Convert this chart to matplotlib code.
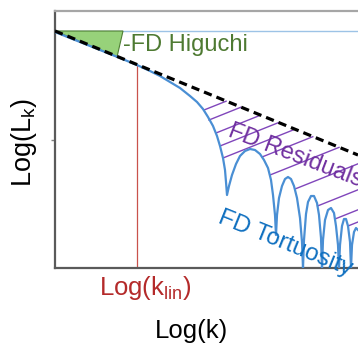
import matplotlib
matplotlib.use("Agg")
import matplotlib.pyplot as plt
from matplotlib.patches import Polygon

plt.rcParams['font.family'] = ['Liberation Sans', 'DejaVu Sans']
plt.rcParams['mathtext.fontset'] = 'custom'
plt.rcParams['mathtext.rm'] = 'Liberation Sans'
plt.rcParams['mathtext.it'] = 'Liberation Sans:italic'

# ---- data (Log(k) on x, Log(L_k) on y, arbitrary units) ----
higuchi_x = [0.0, 3.03]
higuchi_y = [2.37, 1.13]

tri_x = [0.0, 0.68, 0.62]
tri_y = [2.37, 2.37, 2.11]

k_lin = 0.82
k_lin_top = 2.03

curve_x = [0.00, 0.25, 0.45, 0.65, 0.82, 0.95, 1.05, 1.15, 1.25, 1.35, 1.42, 1.48,
           1.53, 1.58, 1.62, 1.65, 1.68, 1.70, 1.71, 1.72, 1.74, 1.77, 1.81, 1.85,
           1.90, 1.95, 2.00, 2.05, 2.09, 2.13, 2.16, 2.18, 2.20, 2.21, 2.22, 2.24,
           2.27, 2.30, 2.33, 2.36, 2.39, 2.42, 2.45, 2.47, 2.48, 2.49, 2.51, 2.53,
           2.56, 2.59, 2.62, 2.64, 2.66, 2.67, 2.68, 2.70, 2.73, 2.76, 2.79, 2.81,
           2.83, 2.84, 2.85, 2.87, 2.89, 2.91, 2.93, 2.95, 2.96, 2.97, 2.99, 3.01, 3.03]
curve_y = [2.36, 2.26, 2.18, 2.10, 2.03, 1.97, 1.92, 1.86, 1.80, 1.72, 1.66, 1.59,
           1.51, 1.42, 1.32, 1.22, 1.10, 0.98, 0.86, 0.73, 0.82, 0.93, 1.04, 1.12,
           1.17, 1.19, 1.18, 1.14, 1.08, 1.00, 0.88, 0.73, 0.53, 0.33, 0.53, 0.70,
           0.82, 0.89, 0.91, 0.89, 0.82, 0.70, 0.50, 0.26, 0.00, 0.28, 0.54, 0.66,
           0.72, 0.72, 0.65, 0.53, 0.30, 0.00, 0.28, 0.48, 0.58, 0.60, 0.55, 0.42,
           0.23, 0.00, 0.23, 0.42, 0.49, 0.49, 0.42, 0.26, 0.00, 0.23, 0.36, 0.40, 0.38]

hatch_x0 = [1.49, 1.54, 1.61, 1.65, 1.68, 2.07, 2.15, 2.40, 2.625, 2.80, 2.93]
hatch_y0 = [1.58, 1.48, 1.35, 1.22, 1.10, 1.11, 0.93, 0.79, 0.62, 0.49, 0.42]
hatch_x1 = [1.711, 1.859, 2.054, 2.235, 2.398, 2.578, 2.84, 3.03, 3.03, 3.03, 3.03]
hatch_y1 = [1.668, 1.608, 1.528, 1.454, 1.387, 1.313, 1.206, 1.042, 0.782, 0.582, 0.46]

W, H = 358, 349
fig = plt.figure(figsize=(W / 100, H / 100), dpi=100)
ax = fig.add_axes([55 / W, 81 / H, 303 / W, 257 / H])
ax.set_xlim(0, 3.03)
ax.set_ylim(0, 2.57)

for s in ['left', 'bottom']:
    ax.spines[s].set_color('#5a5a5a')
    ax.spines[s].set_linewidth(1.6)
ax.spines['top'].set_color('#a6a6a6')
ax.spines['top'].set_linewidth(1.6)
ax.spines['right'].set_visible(False)
ax.set_xticks([])
ax.set_yticks([1.28])
ax.set_yticklabels([''])
ax.tick_params(axis='y', direction='out', length=3, width=1, color='#808080')

# light blue reference line at top of triangle
ax.axhline(tri_y[0], color='#9dc3e6', lw=1.0, zorder=1)

# green triangle
ax.add_patch(Polygon(list(zip(tri_x, tri_y)), closed=True, facecolor='#97d27a',
                     edgecolor='#4f7f34', lw=0.8, zorder=2))

# red k_lin line
ax.plot([k_lin, k_lin], [0, k_lin_top], color='#c9524c', lw=0.9, zorder=2)

# hatch lines
for x0, y0, x1, y1 in zip(hatch_x0, hatch_y0, hatch_x1, hatch_y1):
    ax.plot([x0, x1], [y0, y1], color='#8046bb', lw=1.0, zorder=2)

# blue curve
ax.plot(curve_x, curve_y, color='#4a8fd4', lw=1.6, zorder=3)

# dashed Higuchi fit
ax.plot(higuchi_x, higuchi_y, color='black', lw=2.3, dashes=(2.6, 1.6), zorder=4)


def px(x, y):
    return x / W, 1 - y / H


fig.text(*px(123, 51), '-FD Higuchi', color='#4e7a32', fontsize=17,
         ha='left', va='baseline')
fig.text(*px(227, 136), 'FD Residuals', color='#7030a0', fontsize=17,
         rotation=-21, rotation_mode='anchor', ha='left', va='baseline')
fig.text(*px(217, 222), 'FD Tortuosity', color='#1070c0', fontsize=17.5,
         rotation=-22, rotation_mode='anchor', ha='left', va='baseline')

fig.text(*px(191.5, 338), 'Log(k)', color='black', fontsize=18.5,
         ha='center', va='baseline')
fig.text(*px(145.5, 295), r'Log(k$_{\mathrm{lin}}$)', color='#b42a2a', fontsize=18.5,
         ha='center', va='baseline')
fig.text(*px(24, 142), r'Log(L$_{\mathrm{k}}$)', color='black', fontsize=19.5,
         rotation=90, ha='center', va='center')

fig.savefig('out.png', dpi=100)
